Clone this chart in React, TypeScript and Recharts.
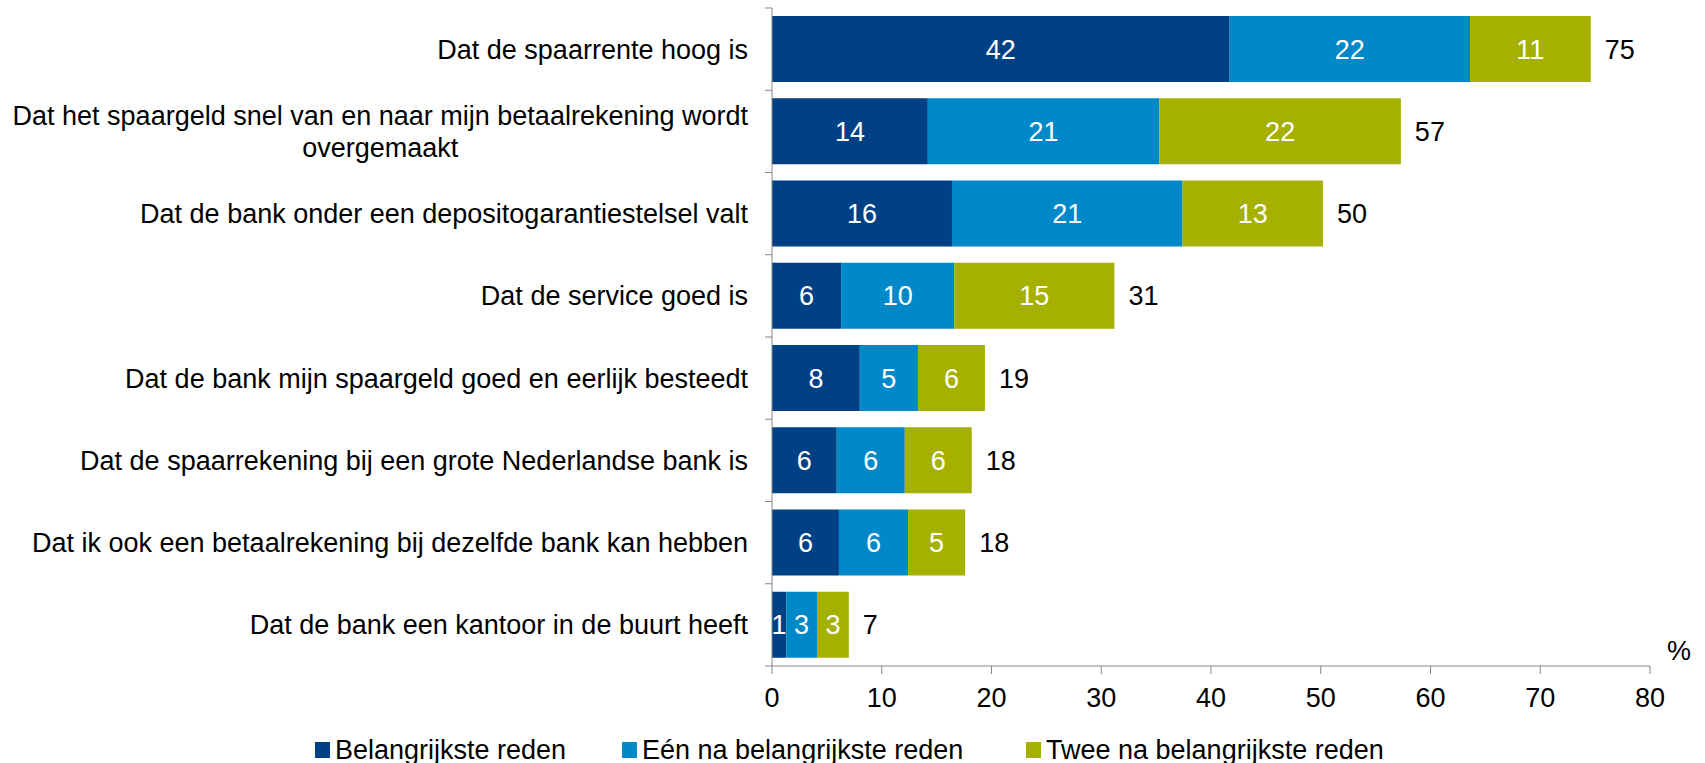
import React from 'react'
import { BarChart, Bar, XAxis, YAxis, LabelList } from 'recharts'

// Reasons for choosing a savings account (% of respondents)
const categories = [
  'Dat de spaarrente hoog is',
  'Dat het spaargeld snel van en naar mijn betaalrekening wordt overgemaakt',
  'Dat de bank onder een depositogarantiestelsel valt',
  'Dat de service goed is',
  'Dat de bank mijn spaargeld goed en eerlijk besteedt',
  'Dat de spaarrekening bij een grote Nederlandse bank is',
  'Dat ik ook een betaalrekening bij dezelfde bank kan hebben',
  'Dat de bank een kantoor in de buurt heeft',
]
const belangrijkste = [41.7, 14.2, 16.4, 6.3, 8.0, 5.9, 6.1, 1.3]
const eenNa = [21.9, 21.1, 21.0, 10.3, 5.3, 6.2, 6.3, 2.8]
const tweeNa = [11.0, 22.0, 12.8, 14.6, 6.1, 6.1, 5.2, 2.9]
const totals = [75, 57, 50, 31, 19, 18, 18, 7]
const xTicks = [0, 10, 20, 30, 40, 50, 60, 70, 80]

const seriesNames = ['Belangrijkste reden', 'Eén na belangrijkste reden', 'Twee na belangrijkste reden']
const colors = ['#004185', '#0088c8', '#a5b000']

const FONT = '"Liberation Sans", Arial, sans-serif'
const FS = 27
const W = 1705
const H = 763
const TOP = 8
const PLOT_BOTTOM = 666
const AXIS_X = 772
const BAND = (PLOT_BOTTOM - TOP) / categories.length

// wrap the long label the way the original does
const labelLines: Record<string, string[]> = {
  'Dat het spaargeld snel van en naar mijn betaalrekening wordt overgemaakt': [
    'Dat het spaargeld snel van en naar mijn betaalrekening wordt',
    'overgemaakt',
  ],
}

let measureCtx: CanvasRenderingContext2D | null = null
function textWidth(s: string): number {
  if (!measureCtx) measureCtx = document.createElement('canvas').getContext('2d')
  if (!measureCtx) return s.length * 12
  measureCtx.font = `${FS}px ${FONT}`
  return measureCtx.measureText(s).width
}

function CategoryTick(props: any) {
  const { x, y, payload, index } = props
  const lines = labelLines[payload.value] ?? [payload.value]
  const tickX1 = AXIS_X - 7
  const top = y - BAND / 2
  return (
    <g>
      <line x1={tickX1} x2={AXIS_X} y1={top} y2={top} stroke="#868686" />
      {index === categories.length - 1 && (
        <line x1={tickX1} x2={AXIS_X} y1={top + BAND} y2={top + BAND} stroke="#868686" />
      )}
      {lines.length === 1 ? (
        <text x={x} y={y} dy="0.355em" textAnchor="end" fill="#000" fontSize={FS} fontFamily={FONT}>
          {lines[0]}
        </text>
      ) : (
        (() => {
          const w = textWidth(lines[0])
          const cx = x - w / 2
          return lines.map((l, i) => (
            <text key={i} x={cx} y={y + (i === 0 ? -16 : 16)} dy="0.355em" textAnchor="middle" fill="#000" fontSize={FS} fontFamily={FONT}>
              {l}
            </text>
          ))
        })()
      )}
    </g>
  )
}

function TotalLabel(props: any) {
  const { x, y, width, height, index } = props
  return (
    <text x={x + width + 14} y={y + height / 2} dy="0.355em" textAnchor="start" fill="#000" fontSize={FS} fontFamily={FONT}>
      {totals[index]}
    </text>
  )
}

export default function App() {
  const data = categories.map((c, i) => ({
    name: c,
    a: belangrijkste[i],
    b: eenNa[i],
    c: tweeNa[i],
  }))

  return (
    <div style={{ position: 'relative', width: W, height: H, background: '#fff', fontFamily: FONT }}>
      <style>{'body{margin:0}'}</style>
      <BarChart
        width={W}
        height={H}
        data={data}
        layout="vertical"
        margin={{ top: TOP, right: W - 1650, bottom: 0, left: 0 }}
        barSize={66}
      >
        <XAxis
          type="number"
          domain={[0, 80]}
          ticks={xTicks}
          interval={0}
          height={H - PLOT_BOTTOM}
          tickSize={8}
          tickMargin={14}
          stroke="#868686"
          tick={{ fill: '#000', fontSize: FS, fontFamily: FONT }}
        />
        <YAxis
          type="category"
          dataKey="name"
          width={AXIS_X}
          tickLine={false}
          tickSize={0}
          tickMargin={24}
          interval={0}
          stroke="#868686"
          tick={<CategoryTick />}
        />
        {(['a', 'b', 'c'] as const).map((k, i) => (
          <Bar key={k} dataKey={k} name={seriesNames[i]} stackId="s" fill={colors[i]} isAnimationActive={false}>
            <LabelList
              dataKey={k}
              position="center"
              fill="#fff"
              fontSize={FS}
              fontFamily={FONT}
              formatter={(v: any) => Math.round(Number(v))}
            />
            {k === 'c' && <LabelList dataKey="c" content={<TotalLabel />} />}
          </Bar>
        ))}
      </BarChart>
      <div style={{ position: 'absolute', left: 1667, top: 636, fontSize: FS, lineHeight: '30px', color: '#000' }}>%</div>
      {/* Legend */}
      {[315, 622, 1026].map((left, i) => (
        <div
          key={i}
          style={{ position: 'absolute', left, top: 735, display: 'flex', alignItems: 'center', fontSize: FS, lineHeight: '30px', color: '#000', whiteSpace: 'nowrap' }}
        >
          <div style={{ width: 15, height: 16, background: colors[i], marginRight: 5 }} />
          {seriesNames[i]}
        </div>
      ))}
    </div>
  )
}
